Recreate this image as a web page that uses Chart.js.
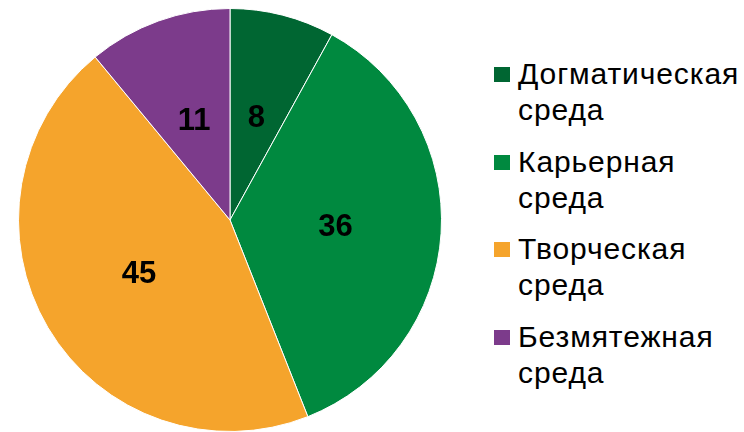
<!DOCTYPE html>
<html>
<head>
<meta charset="utf-8">
<script src="https://cdn.jsdelivr.net/npm/chart.js@4"></script>
<style>
  body { margin: 0; background: #fff; width: 744px; height: 432px; overflow: hidden; position: relative; font-family: "Liberation Sans", Arial, sans-serif; }
  #wrap { position: absolute; left: 0; top: 0; width: 460px; height: 432px; }
  #legend { position: absolute; left: 494px; top: 56px; }
  .item { position: relative; padding-left: 24px; font-size: 30px; letter-spacing: 0.9px; line-height: 36px; color: #000; margin-bottom: 15.5px; white-space: nowrap; }
  .box { position: absolute; left: 0; top: 11px; width: 16px; height: 15px; }
</style>
</head>
<body>
<div id="wrap"><canvas id="chart"></canvas></div>
<div id="legend"></div>
<script>
'use strict';

var labels = ['Догматическая среда', 'Карьерная среда', 'Творческая среда', 'Безмятежная среда'];
var values = [8, 36, 45, 11];
var colors = ['#006632', '#00893f', '#f5a42c', '#7c3b8b'];

// value labels in the middle of each slice
var sliceLabels = {
    id: 'sliceLabels',
    afterDatasetsDraw: function (chart) {
        var ctx = chart.ctx;
        var meta = chart.getDatasetMeta(0);
        ctx.save();
        ctx.font = 'bold 31px "Liberation Sans", Arial, sans-serif';
        ctx.fillStyle = '#000';
        ctx.textAlign = 'center';
        ctx.textBaseline = 'middle';
        meta.data.forEach(function (arc, i) {
            var p = arc.tooltipPosition();
            ctx.fillText(String(values[i]), p.x, p.y + 1);
        });
        ctx.restore();
    }
};

var ctx = document.getElementById('chart').getContext('2d');
var chart = new Chart(ctx, {
    type: 'pie',
    data: {
        labels: labels,
        datasets: [{
            data: values,
            backgroundColor: colors,
            borderColor: '#ffffff',
            borderWidth: 1
        }]
    },
    options: {
        responsive: true,
        maintainAspectRatio: false,
        animation: false,
        layout: { padding: { top: 8, bottom: 0 } },
        plugins: {
            legend: { display: false },
            tooltip: { enabled: false }
        }
    },
    plugins: [sliceLabels]
});

var legend = document.getElementById('legend');
labels.forEach(function (lab, i) {
    var item = document.createElement('div');
    item.className = 'item';
    var box = document.createElement('span');
    box.className = 'box';
    box.style.background = colors[i];
    item.appendChild(box);
    var parts = lab.split(' ');
    item.appendChild(document.createTextNode(parts[0]));
    item.appendChild(document.createElement('br'));
    item.appendChild(document.createTextNode(parts.slice(1).join(' ')));
    legend.appendChild(item);
});
</script>
</body>
</html>
